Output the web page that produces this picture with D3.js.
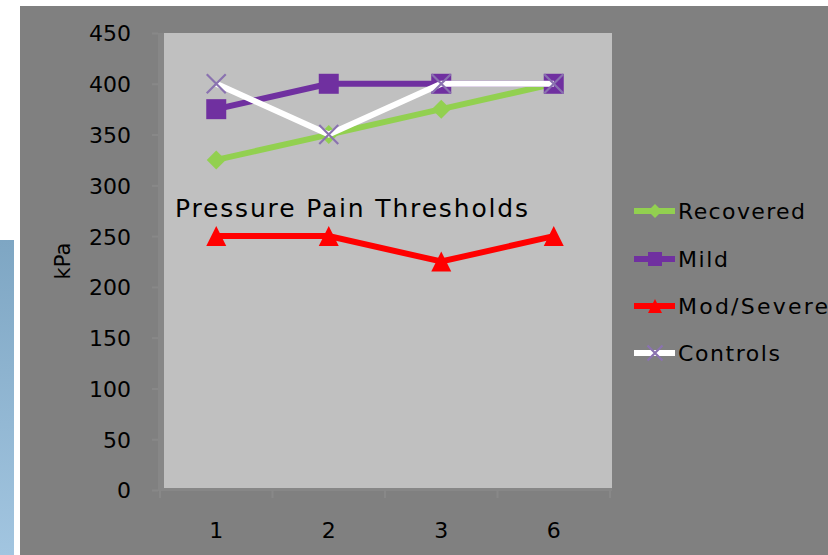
<!DOCTYPE html>
<html><head><meta charset="utf-8">
<script src="https://cdn.jsdelivr.net/npm/d3@7"></script>
<style>html,body{margin:0;padding:0;background:#fff;}svg{display:block;}</style>
</head><body>
<script>
const categories = ["1", "2", "3", "6"];
const seriesNames = ["Recovered", "Mild", "Mod/Severe", "Controls"];
const recovered = [325, 350, 375, 400];
const mild = [375, 400, 400, 400];
const modSevere = [250, 250, 225, 250];
const controls = [400, 350, 400, 400];
const yTicks = [0, 50, 100, 150, 200, 250, 300, 350, 400, 450];
const title = "Pressure Pain Thresholds";
const yLabel = "kPa";

const series = [
  {name: seriesNames[0], values: recovered, color: "#92d050", marker: "diamond"},
  {name: seriesNames[1], values: mild, color: "#7030a0", marker: "square"},
  {name: seriesNames[2], values: modSevere, color: "#ff0000", marker: "triangle"},
  {name: seriesNames[3], values: controls, color: "#ffffff", marker: "x"}
];

const W = 828, H = 555;
const svg = d3.select("body").append("svg").attr("width", W).attr("height", H)
  .style("font-family", "'DejaVu Sans', sans-serif");

// side strip
const defs = svg.append("defs");
const grad = defs.append("linearGradient").attr("id", "blue").attr("x1", 0).attr("x2", 0).attr("y1", 0).attr("y2", 1);
grad.append("stop").attr("offset", "0%").attr("stop-color", "#7ea6c3");
grad.append("stop").attr("offset", "100%").attr("stop-color", "#a2c5e0");
svg.append("rect").attr("x", 0).attr("y", 240).attr("width", 14).attr("height", H - 240).attr("fill", "url(#blue)");

// chart panel
svg.append("rect").attr("x", 20).attr("y", 6).attr("width", W - 20).attr("height", H - 6).attr("fill", "#808080");

const x = d3.scaleBand().domain(categories).range([160, 610]).padding(0);
const y = d3.scaleLinear().domain([0, 450]).range([490, 33]);
const cx = d => x(d) + x.bandwidth() / 2;

// walls
svg.append("rect").attr("x", 158).attr("y", y(450)).attr("width", 6).attr("height", y(0) - y(450)).attr("fill", "#878787");
svg.append("rect").attr("x", 158).attr("y", 488).attr("width", 454).attr("height", 3).attr("fill", "#878787");
svg.append("rect").attr("x", 164).attr("y", y(450)).attr("width", 612 - 164).attr("height", 488 - y(450)).attr("fill", "#c0c0c0");

// y axis
const yAxis = svg.append("g").attr("transform", "translate(158,0)")
  .call(d3.axisLeft(y).tickValues(yTicks).tickSize(6).tickPadding(21).tickFormat(d3.format("d")));
yAxis.select(".domain").remove();
yAxis.selectAll(".tick line").attr("stroke", "#888888").attr("stroke-width", 2);
yAxis.selectAll(".tick text").attr("font-size", 22).attr("fill", "#000").attr("dy", "0.36em")
  .attr("font-family", "'DejaVu Sans', sans-serif");

// x axis
const xAxis = svg.append("g").attr("transform", "translate(0,490)");
xAxis.selectAll("line").data([...categories.map(c => x(c)), 610]).join("line")
  .attr("x1", d => d).attr("x2", d => d).attr("y1", 0).attr("y2", 8)
  .attr("stroke", "#888888").attr("stroke-width", 2);
xAxis.selectAll("text").data(categories).join("text")
  .attr("x", d => cx(d)).attr("y", 48).attr("text-anchor", "middle")
  .attr("font-size", 22).attr("fill", "#000").text(d => d);

// y label
svg.append("text").attr("transform", "translate(70,261) rotate(-90)").attr("text-anchor", "middle")
  .attr("font-size", 21).attr("fill", "#000").text(yLabel);

// title
svg.append("text").attr("x", 175).attr("y", 217).attr("font-size", 25)
  .attr("textLength", 353).attr("lengthAdjust", "spacing").attr("fill", "#000").text(title);

function drawMarker(g, type, color, px, py, s) {
  if (type === "diamond") {
    g.append("path").attr("d", `M${px},${py - s/2}L${px + s/2},${py}L${px},${py + s/2}L${px - s/2},${py}Z`).attr("fill", color);
  } else if (type === "square") {
    g.append("rect").attr("x", px - s/2).attr("y", py - s/2).attr("width", s).attr("height", s).attr("fill", color);
  } else if (type === "triangle") {
    g.append("path").attr("d", `M${px},${py - s/2}L${px + s/2},${py + s/2}L${px - s/2},${py + s/2}Z`).attr("fill", color);
  } else if (type === "x") {
    const h = s / 2;
    g.append("path").attr("d", `M${px - h},${py - h}L${px + h},${py + h}M${px - h},${py + h}L${px + h},${py - h}`)
      .attr("stroke", "#8a72b0").attr("stroke-width", 2.2).attr("fill", "none");
  }
}

const line = d3.line().x((d, i) => cx(categories[i])).y(d => y(d));
const sizes = {diamond: 19, square: 20, triangle: 20, x: 19};
series.forEach(s => {
  const g = svg.append("g");
  g.append("path").datum(s.values).attr("d", line).attr("fill", "none")
    .attr("stroke", s.color).attr("stroke-width", 6);
  s.values.forEach((v, i) => drawMarker(g, s.marker, s.color, cx(categories[i]), y(v), sizes[s.marker]));
});

// legend
const legendY = [211, 259, 306, 353];
const legendW = [127, 50, 150, 102];
series.forEach((s, i) => {
  const g = svg.append("g");
  const ly = legendY[i];
  g.append("line").attr("x1", 634).attr("x2", 675).attr("y1", ly).attr("y2", ly)
    .attr("stroke", s.color).attr("stroke-width", 6);
  drawMarker(g, s.marker, s.color, 655, ly, s.marker === "x" ? 15 : 14);
  g.append("text").attr("x", 678).attr("y", ly + 8).attr("font-size", 22).attr("fill", "#000")
    .attr("textLength", legendW[i]).attr("lengthAdjust", "spacing").text(s.name);
});
</script>
</body></html>
